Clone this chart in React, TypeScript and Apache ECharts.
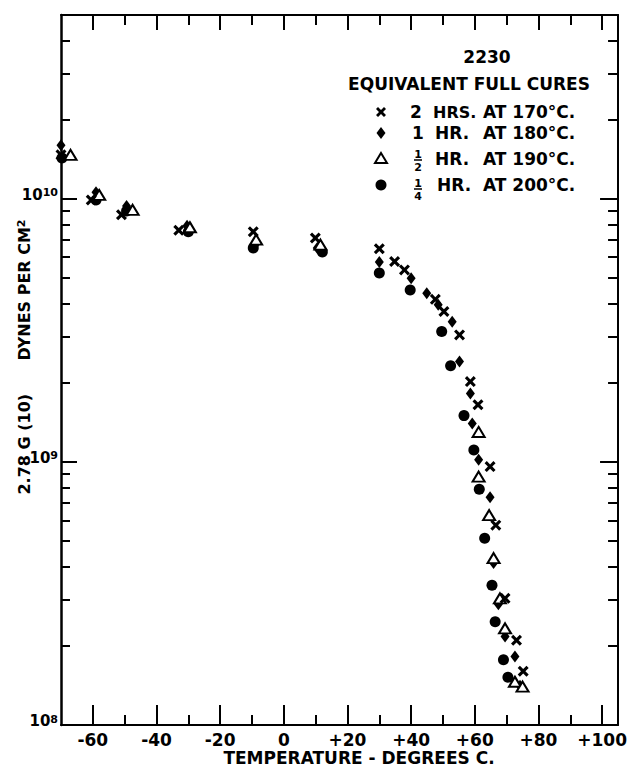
import React, { useEffect, useRef } from "react";
import * as echarts from "echarts";

// ---- axis ticks ----
const xMajorTicks = [-60, -40, -20, 0, 20, 40, 60, 80, 100];
const xMinorTicks = [-50, -30, -10, 10, 30, 50, 70, 90];
const yMajorTicks = [1e8, 1e9, 1e10];
const yMinorTicks = [
  2e8, 3e8, 4e8, 5e8, 6e8, 7e8, 8e8, 9e8,
  2e9, 3e9, 4e9, 5e9, 6e9, 7e9, 8e9, 9e9,
  2e10, 3e10, 4e10,
];

// ---- data: [temperature °C, 2.78 G (10) dynes/cm²] ----
const cure170: [number, number][] = [
  [-70, 1.47e10], [-60.5, 9.9e9], [-51, 8.7e9], [-33, 7.6e9], [-9.6, 7.5e9],
  [9.9, 7.1e9], [30, 6.46e9], [34.8, 5.78e9], [37.9, 5.37e9], [47.6, 4.15e9],
  [50.3, 3.73e9], [55.2, 3.04e9], [58.6, 2.02e9], [61.0, 1.65e9], [64.8, 9.6e8],
  [66.6, 5.75e8], [69.5, 3.03e8], [73.1, 2.1e8], [75.2, 1.6e8],
];
const cure180: [number, number][] = [
  [-70, 1.6e10], [-59, 1.06e10], [-49.4, 9.4e9], [-30.4, 7.9e9], [-9, 6.7e9],
  [10.5, 6.5e9], [30, 5.76e9], [40, 4.99e9], [44.9, 4.38e9], [48.5, 3.96e9],
  [52.9, 3.41e9], [55.2, 2.41e9], [58.6, 1.82e9], [59.2, 1.4e9], [61.2, 1.02e9],
  [64.8, 7.34e8], [65.9, 4.13e8], [67.4, 2.88e8], [69.5, 2.17e8], [72.6, 1.82e8],
  [74.2, 1.41e8],
];
const cure190: [number, number][] = [
  [-67, 1.47e10], [-58, 1.035e10], [-47.5, 9.08e9], [-29.5, 7.8e9], [-8.7, 7.0e9],
  [11.5, 6.7e9], [61.2, 1.3e9], [61.2, 8.8e8], [64.5, 6.28e8], [65.9, 4.31e8],
  [67.9, 3.03e8], [69.5, 2.33e8], [72.6, 1.46e8], [75, 1.4e8],
];
const cure200: [number, number][] = [
  [-69.7, 1.43e10], [-59, 9.9e9], [-49.4, 9.0e9], [-30, 7.5e9], [-9.6, 6.5e9],
  [12.1, 6.28e9], [30, 5.23e9], [39.7, 4.5e9], [49.6, 3.13e9], [52.4, 2.32e9],
  [56.6, 1.5e9], [59.7, 1.11e9], [61.4, 7.87e8], [63.1, 5.13e8], [65.4, 3.4e8],
  [66.4, 2.47e8], [69.0, 1.77e8], [70.4, 1.52e8],
];

const FONT = "DejaVu Sans";
const INK = "#000";

const crossPts: [number, number][] = [
  [2, 0], [5, 3], [8, 0], [10, 2], [7, 5], [10, 8], [8, 10], [5, 7], [2, 10], [0, 8], [3, 5], [0, 2],
];
const crossPath =
  "path://" + crossPts.map((p, i) => (i === 0 ? "M" : "L") + p[0] + "," + p[1]).join(" ") + " Z";

const xFmt = (v: number) => (v > 0 ? "+" + v : v < 0 ? "-" + Math.abs(v) : "0");

export default function App() {
  const ref = useRef<HTMLDivElement>(null);
  useEffect(() => {
    if (!ref.current) return;
    const chart = echarts.init(ref.current, null, { renderer: "svg" });
    const lineW = 2;
    const xBase = {
      type: "value" as const,
      min: -70,
      max: 105,
      splitLine: { show: false },
    };
    const yBase = {
      type: "log" as const,
      logBase: 10,
      min: 1e8,
      max: 5e10,
      splitLine: { show: false },
      minorTick: { show: false },
    };
    const legendX = 381;
    const crossAt = (cx: number, cy: number, s: number) =>
      crossPts.map((p) => [cx - s / 2 + (p[0] * s) / 10, cy - s / 2 + (p[1] * s) / 10]);
    const txt = (text: string, x: number, y: number, size: number, align = "left") => ({
      type: "text",
      x,
      y,
      style: {
        text,
        fill: INK,
        font: `bold ${size}px "${FONT}"`,
        align,
        verticalAlign: "middle",
      },
    });
    const frac = (num: string, den: string, cx: number, cy: number) => [
      txt(num, cx, cy - 6, 11, "center"),
      {
        type: "line",
        shape: { x1: cx - 4, y1: cy, x2: cx + 4, y2: cy },
        style: { stroke: INK, lineWidth: 1.5 },
      },
      txt(den, cx, cy + 7, 11, "center"),
    ];
    const axLine = (show: boolean, width = lineW) => ({
      show,
      onZero: false,
      lineStyle: { color: INK, width },
    });

    chart.setOption({
      animation: false,
      backgroundColor: "#fff",
      grid: { left: 61, right: 7, top: 15, bottom: 42 },
      xAxis: [
        {
          ...xBase,
          position: "bottom",
          axisLine: axLine(true),
          axisTick: {
            show: true, inside: true, length: 20, customValues: xMajorTicks,
            lineStyle: { color: INK, width: lineW },
          },
          axisLabel: {
            customValues: xMajorTicks, formatter: xFmt, color: INK, fontFamily: FONT,
            fontWeight: "bold", fontSize: 17, margin: 6,
          },
        },
        {
          ...xBase,
          position: "bottom",
          axisLine: axLine(false),
          axisTick: {
            show: true, inside: true, length: 10, customValues: xMinorTicks,
            lineStyle: { color: INK, width: lineW },
          },
          axisLabel: { show: false },
        },
        {
          ...xBase,
          position: "top",
          axisLine: axLine(true),
          axisTick: {
            show: true, inside: true, length: 15, customValues: xMajorTicks,
            lineStyle: { color: INK, width: lineW },
          },
          axisLabel: { show: false },
        },
        {
          ...xBase,
          position: "top",
          axisLine: axLine(false),
          axisTick: {
            show: true, inside: true, length: 10, customValues: xMinorTicks,
            lineStyle: { color: INK, width: lineW },
          },
          axisLabel: { show: false },
        },
      ],
      yAxis: [
        {
          ...yBase,
          position: "left",
          axisLine: axLine(true, 2.5),
          axisTick: {
            show: true, inside: true, length: 16, customValues: yMajorTicks,
            lineStyle: { color: INK, width: lineW },
          },
          axisLabel: {
            customValues: yMajorTicks,
            margin: 3,
            verticalAlign: "middle",
            padding: [0, 0, 8, 0],
            formatter: (v: number) => `{b|10}{s|${Math.round(Math.log10(v))}}`,
            rich: {
              b: {
                fontFamily: FONT, fontWeight: "bold", fontSize: 15, lineHeight: 15,
                color: INK, verticalAlign: "bottom", padding: [3, 0, 0, 0],
              },
              s: {
                fontFamily: FONT, fontWeight: "bold", fontSize: 11, lineHeight: 11,
                color: INK, verticalAlign: "top",
              },
            },
          },
        },
        {
          ...yBase,
          position: "left",
          axisLine: axLine(false),
          axisTick: {
            show: true, inside: true, length: 9, customValues: yMinorTicks,
            lineStyle: { color: INK, width: lineW },
          },
          axisLabel: { show: false },
        },
        {
          ...yBase,
          position: "right",
          axisLine: axLine(true),
          axisTick: {
            show: true, inside: true, length: 18, customValues: yMajorTicks,
            lineStyle: { color: INK, width: lineW },
          },
          axisLabel: { show: false },
        },
        {
          ...yBase,
          position: "right",
          axisLine: axLine(false),
          axisTick: {
            show: true, inside: true, length: 10, customValues: yMinorTicks,
            lineStyle: { color: INK, width: lineW },
          },
          axisLabel: { show: false },
        },
      ],
      series: [
        {
          name: "1/4 HR. AT 200°C.",
          type: "scatter",
          data: cure200,
          symbol: "circle",
          symbolSize: 11,
          itemStyle: { color: INK, opacity: 1 },
        },
        {
          name: "1 HR. AT 180°C.",
          type: "scatter",
          data: cure180,
          symbol: "diamond",
          symbolSize: [9, 12],
          itemStyle: { color: INK, opacity: 1 },
        },
        {
          name: "1/2 HR. AT 190°C.",
          type: "scatter",
          data: cure190,
          symbol: "triangle",
          symbolSize: [12, 10],
          itemStyle: { color: "#fff", borderColor: INK, borderWidth: 2, opacity: 1 },
        },
        {
          name: "2 HRS. AT 170°C.",
          type: "scatter",
          data: cure170,
          symbol: crossPath,
          symbolSize: 11,
          itemStyle: { color: INK, opacity: 1 },
        },
      ],
      graphic: [
        txt("TEMPERATURE - DEGREES C.", 359, 758, 17, "center"),
        {
          type: "text",
          x: 24,
          y: 357,
          rotation: Math.PI / 2,
          style: {
            text: "{t|2.78 G (10)      DYNES PER CM}{s|2}",
            align: "center",
            verticalAlign: "middle",
            rich: {
              t: {
                fontFamily: FONT, fontWeight: "bold", fontSize: 16, lineHeight: 16,
                fill: INK, verticalAlign: "bottom", padding: [4, 0, 0, 0],
              },
              s: {
                fontFamily: FONT, fontWeight: "bold", fontSize: 11, lineHeight: 11,
                fill: INK, verticalAlign: "top",
              },
            },
          },
        },
        txt("2230", 487, 57, 17, "center"),
        txt("EQUIVALENT FULL CURES", 469, 83.5, 17, "center"),
        // row 1
        {
          type: "polygon",
          shape: { points: crossAt(legendX, 112, 10) },
          style: { fill: INK },
        },
        txt("2", 416, 112, 17, "center"),
        txt("HRS.", 433, 112, 16),
        txt("AT 170°C.", 483, 112, 17),
        // row 2
        {
          type: "polygon",
          shape: { points: [[legendX, 127], [legendX + 4.5, 133], [legendX, 139], [legendX - 4.5, 133]] },
          style: { fill: INK },
        },
        txt("1", 418, 133, 17, "center"),
        txt("HR.", 435, 133, 17),
        txt("AT 180°C.", 483, 133, 17),
        // row 3
        {
          type: "polygon",
          shape: { points: [[legendX, 153], [legendX + 6, 163], [legendX - 6, 163]] },
          style: { fill: "#fff", stroke: INK, lineWidth: 2 },
        },
        ...frac("1", "2", 418, 160),
        txt("HR.", 435, 159, 17),
        txt("AT 190°C.", 483, 159, 17),
        // row 4
        {
          type: "circle",
          shape: { cx: legendX, cy: 185, r: 5.5 },
          style: { fill: INK },
        },
        ...frac("1", "4", 418, 189),
        txt("HR.", 437, 185, 17),
        txt("AT 200°C.", 483, 185, 17),
      ],
    });
    return () => chart.dispose();
  }, []);
  return (
    <div
      ref={ref}
      style={{ position: "absolute", left: 0, top: 0, width: 630, height: 767, background: "#fff" }}
    />
  );
}
